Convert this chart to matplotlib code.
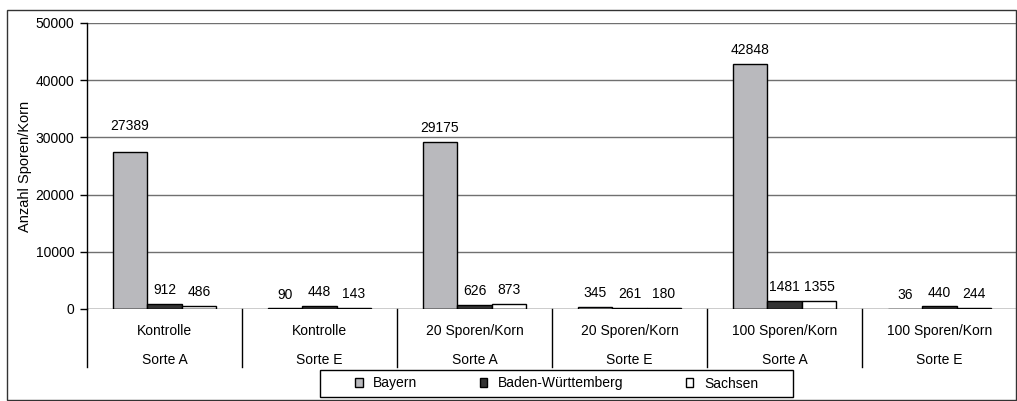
import matplotlib
matplotlib.use("Agg")
import matplotlib.pyplot as plt
import numpy as np
from matplotlib.transforms import blended_transform_factory
from matplotlib.patches import Rectangle

plt.rcParams['font.family'] = ['Liberation Sans', 'DejaVu Sans']

treatments = ["Kontrolle", "Kontrolle", "20 Sporen/Korn", "20 Sporen/Korn",
              "100 Sporen/Korn", "100 Sporen/Korn"]
sorten = ["Sorte A", "Sorte E", "Sorte A", "Sorte E", "Sorte A", "Sorte E"]
series_names = ["Bayern", "Baden-Württemberg", "Sachsen"]
bayern = [27389, 90, 29175, 345, 42848, 36]
bw = [912, 448, 626, 261, 1481, 440]
sachsen = [486, 143, 873, 180, 1355, 244]
yticks = [0, 10000, 20000, 30000, 40000, 50000]

colors = ["#b9b9bd", "#333333", "#ffffff"]

W, H = 1017, 401
fig = plt.figure(figsize=(W / 100, H / 100), dpi=100)
ax = fig.add_axes([87 / W, (H - 309) / H, 930 / W, 286 / H])

x = np.arange(len(treatments))
bw_ = 1 / 4.5
series = [bayern, bw, sachsen]
# extra label lift (points) for the one label Excel placed higher
extra_lift = {(0, 0): 9}
for i, (vals, c, name) in enumerate(zip(series, colors, series_names)):
    xs = x + (i - 1) * bw_
    ax.bar(xs, vals, width=bw_, color=c, edgecolor="black", linewidth=1,
           label=name, zorder=3)
    for j, (xx, v) in enumerate(zip(xs, vals)):
        ax.annotate(str(v), (xx, v), xytext=(0, 5 + extra_lift.get((i, j), 0)),
                    textcoords="offset points", ha="center", va="bottom",
                    fontsize=10, color="black", zorder=4)

ax.set_xlim(-0.5, len(treatments) - 0.5)
ax.set_ylim(0, 50000)
ax.set_yticks(yticks)
ax.set_yticklabels([str(t) for t in yticks], fontsize=10)
ax.set_xticks([])
for t in yticks[1:]:
    ax.axhline(t, color="#707070", linewidth=1, zorder=1)
ax.axhline(0, color="black", linewidth=1, zorder=5)

for s in ["top", "right", "bottom"]:
    ax.spines[s].set_visible(False)
ax.spines["left"].set_color("black")
ax.spines["left"].set_linewidth(1)
ax.tick_params(axis="y", length=5, width=1, pad=4, direction="out")

ax.set_ylabel("Anzahl Sporen/Korn", fontsize=10.5)
ax.yaxis.set_label_coords(-55 / 930, 0.5)

trans = blended_transform_factory(ax.transData, ax.transAxes)
for k in range(len(treatments)):
    ax.plot([k - 0.5, k - 0.5], [0, -58 / 286], color="black", linewidth=1,
            transform=trans, clip_on=False)
    ax.text(k, -22 / 286, treatments[k], transform=trans, ha="center",
            va="center", fontsize=10)
    ax.text(k, -51 / 286, sorten[k], transform=trans, ha="center",
            va="center", fontsize=10)

leg = fig.legend(loc="center", ncol=3,
                 bbox_to_anchor=((320 + 793) / 2 / W, (H - 383.5) / H),
                 frameon=False, fontsize=10, handlelength=0.55,
                 handleheight=0.55, handletextpad=0.75, columnspacing=4.5,
                 borderpad=0, borderaxespad=0)
for hdl in leg.legend_handles:
    hdl.set_linewidth(1)
fig.patches.append(Rectangle((320 / W, (H - 397) / H), 473 / W, 27 / H,
                             transform=fig.transFigure, fill=False,
                             edgecolor="black", linewidth=1))

fig.patches.append(Rectangle((7 / W, 1 / H), 1009 / W, 390 / H,
                             transform=fig.transFigure, fill=False,
                             edgecolor="#333333", linewidth=1))

fig.savefig("out.png", dpi=100)
